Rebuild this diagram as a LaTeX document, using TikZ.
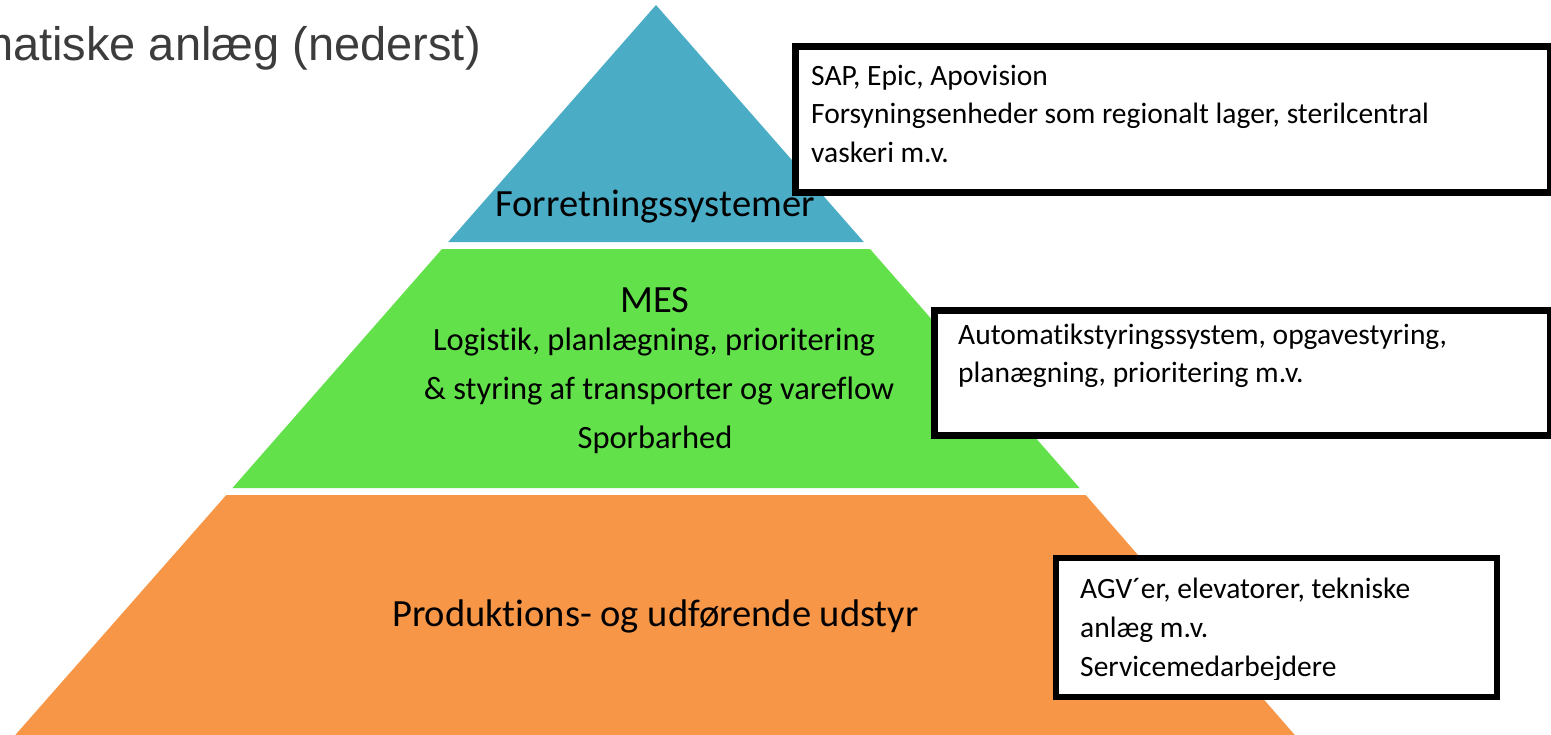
\documentclass[tikz,border=0pt]{standalone}
\usepackage{fontspec}
\setmainfont{Carlito}[RawFeature={-liga;-clig;-dlig;-calt}]
\newfontfamily\titlefont{Liberation Sans}
\newcommand{\nolig}{\kern0pt}
\definecolor{pblue}{RGB}{75,172,198}
\definecolor{pgreen}{RGB}{98,225,75}
\definecolor{porange}{RGB}{247,150,70}
\definecolor{tgray}{RGB}{60,60,60}
\begin{document}
\begin{tikzpicture}[x=1pt,y=-1pt,
  lvl/.style={inner sep=0pt, anchor=base, font=\fontsize{38.5}{46}\selectfont},
  sub/.style={inner sep=0pt, anchor=base, font=\fontsize{32.5}{39}\selectfont},
  infobox/.style={draw=black, fill=white, line width=7pt, inner sep=0pt, anchor=north west},
  info/.style={inner sep=0pt, anchor=base west, font=\fontsize{29.5}{38.5}\selectfont}]
\useasboundingbox (0,0) rectangle (1551,734);
\clip (0,0) rectangle (1551,734);
% title (cut off at the left, as in the reference)
\node[anchor=base east, inner sep=0pt, text=tgray, font=\titlefont\fontsize{47}{56}\selectfont] (title) at (481,60) {matiske anlæg (nederst)};
% pyramid
\fill[pblue] (656,5) -- (863.8,242) -- (448.2,242) -- cycle;
\fill[pgreen] (442.0,249) -- (870.0,249) -- (1079.6,488) -- (232.4,488) -- cycle;
\fill[porange] (226.3,495) -- (1085.7,495) -- (1300,741) -- (10,741) -- cycle;
% info boxes
\node[infobox, minimum width=755pt, minimum height=146pt] (box1) at (792,43) {};
\node[infobox, minimum width=616pt, minimum height=125pt] (box2) at (931,307) {};
\node[infobox, line width=6pt, minimum width=441pt, minimum height=139pt] (box3) at (1053,555) {};
% pyramid labels
\node[lvl] (top) at (655,216) {Forretningssystemer};
\node[lvl] (mes) at (655,312) {MES};
\node[sub] (mes1) at (654,350) {Logist\nolig ik, planlægning, prioritering};
\node[sub] (mes2) at (659,399) {\& styring af transporter og varef\nolig low};
\node[sub] (mes3) at (655,448) {Sporbarhed};
\node[lvl] (bottom) at (655.5,626) {Produkt\nolig ions- og udførende udstyr};
% box texts
\node[info] (b1a) at (811,85) {SAP, Epic, Apovision};
\node[info] (b1b) at (811,123.5) {Forsyningsenheder som regionalt lager, sterilcentral};
\node[info] (b1c) at (811,162) {vaskeri m.v.};
\node[info] (b2a) at (958,344) {Automat\nolig ikstyringssystem, opgavestyring,};
\node[info] (b2b) at (958,382) {planægning, prioritering m.v.};
\node[info] (b3a) at (1080,598) {AGV´er, elevatorer, tekniske};
\node[info] (b3b) at (1080,637) {anlæg m.v.};
\begin{scope}
\clip (1056,640) rectangle (1491,679);
\node[info] (b3c) at (1080,676) {Servicemedarbejdere};
\end{scope}
\end{tikzpicture}
\end{document}
